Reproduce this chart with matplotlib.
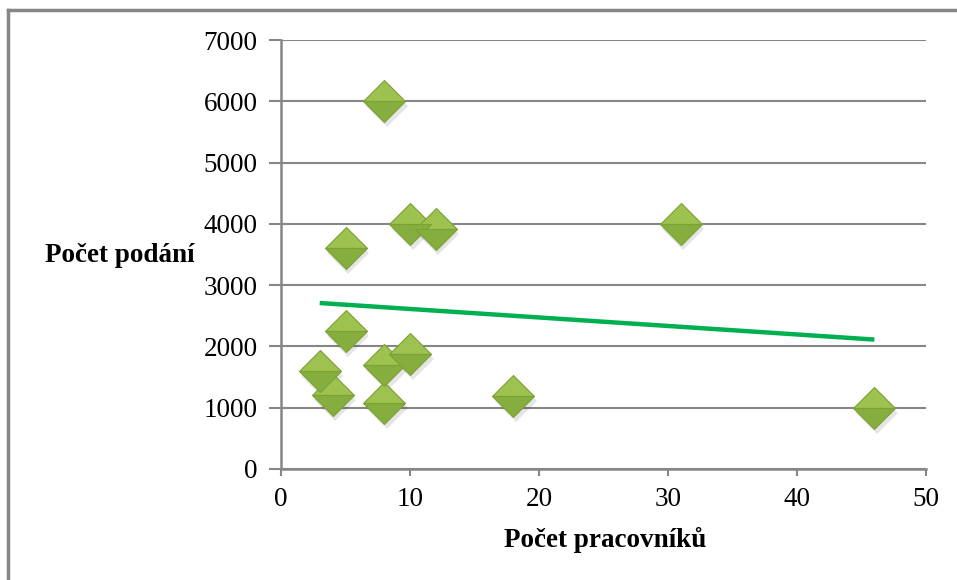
#! /usr/bin/env python3

import numpy as np
from matplotlib import pyplot as plt
from matplotlib.lines import Line2D

# workers vs. number of filings
pracovnici = [3, 4, 5, 5, 8, 8, 8, 10, 10, 12, 18, 31, 46]
podani     = [1600, 1200, 3600, 2250, 6000, 1700, 1080, 4000, 1880, 3920, 1190, 4000, 1000]

x_ticks = [0, 10, 20, 30, 40, 50]
y_ticks = [0, 1000, 2000, 3000, 4000, 5000, 6000, 7000]

GRAY = "#868686"

def main():

    plt.rcParams["font.family"] = ["Liberation Serif", "DejaVu Serif"]

    fig = plt.figure(figsize = (9.57, 5.8), dpi = 100)
    ax = fig.add_axes([281 / 957, 1 - 469 / 580, 645 / 957, 429 / 580])

    x = np.array(pracovnici, dtype = float)
    y = np.array(podani, dtype = float)

    # linear trend over the data range
    k, q = np.polyfit(x, y, 1)
    xt = np.array([x.min(), x.max()])
    ax.plot(xt, k * xt + q, color = "#00B050", lw = 3.2, solid_capstyle = "butt", zorder = 3)

    # soft shadow under the diamonds
    ax.plot(x + 0.2, y - 80, "D", ms = 21, color = "#000000", alpha = 0.10,
            markeredgewidth = 0, zorder = 4)
    ax.plot(x, y, "D", ms = 21, fillstyle = "top",
            markerfacecolor = "#9DC24F", markerfacecoloralt = "#86AE3E",
            markeredgecolor = "#7BA236", markeredgewidth = 0.8, zorder = 5)

    ax.set_xlim(0, 50)
    ax.set_ylim(0, 7000)
    ax.set_xticks(x_ticks)
    ax.set_yticks(y_ticks)
    ax.tick_params(axis = "both", labelsize = 19.5, colors = GRAY, labelcolor = "black",
                   width = 1.5, direction = "out")
    ax.tick_params(axis = "y", length = 9, pad = 8)
    ax.tick_params(axis = "x", length = 5, pad = 8)

    ax.yaxis.grid(True, color = GRAY, lw = 1.5)
    ax.set_axisbelow(True)
    for side in ("top", "right"):
        ax.spines[side].set_visible(False)
    for side in ("left", "bottom"):
        ax.spines[side].set_color(GRAY)
        ax.spines[side].set_linewidth(1.8)

    fig.text(120 / 957, 1 - 255 / 580, "Počet podání", fontsize = 19.5,
             fontweight = "bold", ha = "center", va = "center")
    fig.text(605 / 957, 1 - 540 / 580, "Počet pracovníků", fontsize = 19.5,
             fontweight = "bold", ha = "center", va = "center")

    # outer frame, only top and left edges are visible
    fig.add_artist(Line2D([8 / 957, 8 / 957], [0, 1 - 10 / 580],
                          transform = fig.transFigure, color = GRAY, lw = 2.5))
    fig.add_artist(Line2D([8 / 957, 1], [1 - 10 / 580, 1 - 10 / 580],
                          transform = fig.transFigure, color = GRAY, lw = 2.5))

    fig.savefig("out.png", dpi = 100)

if __name__ == "__main__":
    main()
